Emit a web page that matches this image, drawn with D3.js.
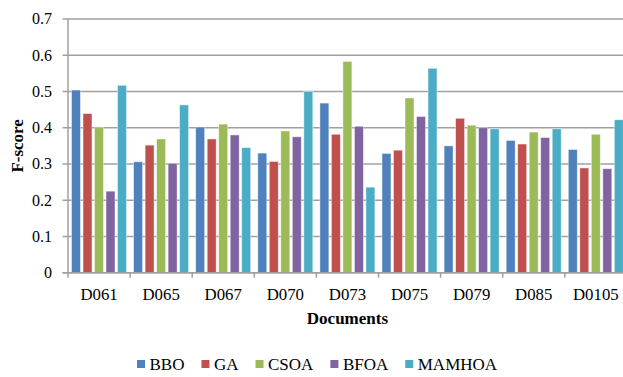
<!DOCTYPE html>
<html>
<head>
<meta charset="utf-8">
<script src="https://cdn.jsdelivr.net/npm/d3@7"></script>
<style>
  html, body { margin: 0; padding: 0; background: #fff; }
  svg { display: block; }
  text { font-family: "Liberation Serif", "Times New Roman", serif; fill: #000; }
</style>
</head>
<body>
<script>
const categories = ["D061", "D065", "D067", "D070", "D073", "D075", "D079", "D085", "D0105"];
const seriesNames = ["BBO", "GA", "CSOA", "BFOA", "MAMHOA"];
const colors = ["#4F81BD", "#C0504D", "#9BBB59", "#8064A2", "#4BACC6"];
const BBO    = [0.504, 0.306, 0.402, 0.330, 0.468, 0.329, 0.350, 0.365, 0.340];
const GA     = [0.439, 0.352, 0.369, 0.307, 0.382, 0.338, 0.426, 0.355, 0.289];
const CSOA   = [0.402, 0.369, 0.410, 0.391, 0.583, 0.482, 0.407, 0.388, 0.382];
const BFOA   = [0.225, 0.302, 0.380, 0.375, 0.404, 0.431, 0.400, 0.373, 0.287];
const MAMHOA = [0.517, 0.463, 0.345, 0.500, 0.236, 0.564, 0.397, 0.397, 0.422];
const yTicks = [0, 0.1, 0.2, 0.3, 0.4, 0.5, 0.6, 0.7];
const seriesValues = [BBO, GA, CSOA, BFOA, MAMHOA];

const W = 623, H = 377;
const plotLeft = 68, plotTop = 19, plotBottom = 272.7;
const bandStep = 62.1;
const plotRight = plotLeft + categories.length * bandStep;

const svg = d3.select("body").append("svg").attr("width", W).attr("height", H);

const x0 = d3.scaleBand().domain(categories).range([plotLeft, plotRight]).padding(0);
const x1 = d3.scaleBand().domain(seriesNames).range([3.5, x0.bandwidth() - 3.6]).paddingInner(0.22).paddingOuter(0);
const y = d3.scaleLinear().domain([0, 0.7]).range([plotBottom, plotTop]);

const gridColor = "#a0a0a0";

// gridlines
svg.append("g").selectAll("line").data(yTicks).join("line")
  .attr("x1", plotLeft - 5.5).attr("x2", W)
  .attr("y1", d => y(d)).attr("y2", d => y(d))
  .attr("stroke", gridColor).attr("stroke-width", 1.5);

// y axis line
svg.append("line").attr("x1", plotLeft).attr("x2", plotLeft).attr("y1", plotTop).attr("y2", plotBottom)
  .attr("stroke", gridColor).attr("stroke-width", 1.5);

// y tick labels
svg.append("g").selectAll("text").data(yTicks).join("text")
  .attr("x", 52).attr("y", d => y(d)).attr("dy", "0.34em")
  .attr("text-anchor", "end").style("font-size", "16px")
  .text(d => d === 0 ? "0" : d3.format(".1f")(d));

// bars
const groups = svg.append("g").selectAll("g").data(categories).join("g")
  .attr("transform", c => `translate(${x0(c)},0)`);
groups.selectAll("rect")
  .data((c, i) => seriesNames.map((s, j) => ({ s, v: seriesValues[j][i], color: colors[j] })))
  .join("rect")
  .attr("x", d => x1(d.s)).attr("width", x1.bandwidth())
  .attr("y", d => y(d.v)).attr("height", d => y(0) - y(d.v))
  .attr("fill", d => d.color)
  .attr("stroke", "rgba(255,255,255,0.55)").attr("stroke-width", 0.8);

// x axis baseline and ticks
svg.append("line").attr("x1", plotLeft - 5.5).attr("x2", W).attr("y1", plotBottom).attr("y2", plotBottom)
  .attr("stroke", gridColor).attr("stroke-width", 1.5);
const tickXs = d3.range(categories.length + 1).map(i => plotLeft + i * x0.step());
svg.append("g").selectAll("line").data(tickXs).join("line")
  .attr("x1", d => d).attr("x2", d => d).attr("y1", plotBottom).attr("y2", plotBottom + 5)
  .attr("stroke", gridColor).attr("stroke-width", 1.5);

// x labels
svg.append("g").selectAll("text").data(categories).join("text")
  .attr("x", c => x0(c) + x0.bandwidth() / 2).attr("y", 300)
  .attr("text-anchor", "middle").style("font-size", "16.8px")
  .text(c => c);

// axis titles
svg.append("text").attr("x", (plotLeft + plotRight) / 2).attr("y", 324.3)
  .attr("text-anchor", "middle").style("font-size", "17px").style("font-weight", "bold")
  .text("Documents");
svg.append("text").attr("transform", `translate(23,${(plotTop + plotBottom) / 2}) rotate(-90)`)
  .attr("text-anchor", "middle").style("font-size", "17px").style("font-weight", "bold")
  .text("F-score");

// legend
const legend = svg.append("g");
let lx = 137;
seriesNames.forEach((s, i) => {
  legend.append("rect").attr("x", lx).attr("y", 360).attr("width", 8).attr("height", 8)
    .attr("fill", colors[i]);
  const t = legend.append("text").attr("x", lx + 12.5).attr("y", 369.5)
    .style("font-size", "17px").text(s);
  lx += 12.5 + t.node().getComputedTextLength() + 17;
});
</script>
</body>
</html>
